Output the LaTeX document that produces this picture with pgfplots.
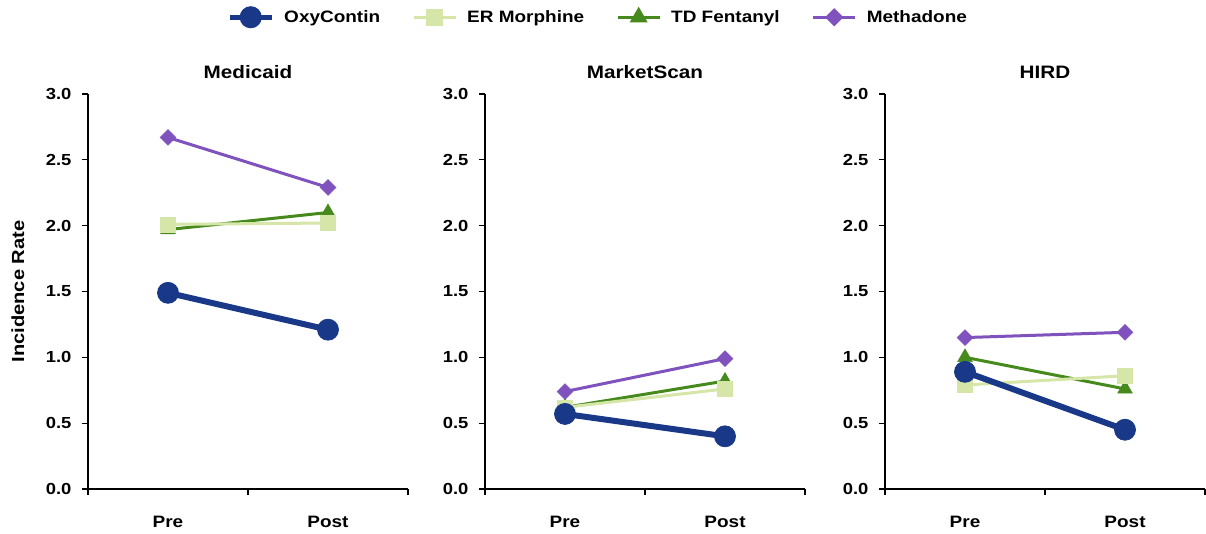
\documentclass[border=0pt]{standalone}
\usepackage{fontspec}
\setmainfont{Liberation Sans}[FakeStretch=1.15]
\usepackage{pgfplots}
\pgfplotsset{compat=1.18}
\usepackage{pgfplotstable}

\definecolor{oxy}{RGB}{25,57,136}
\definecolor{er}{RGB}{214,229,168}
\definecolor{td}{RGB}{70,138,30}
\definecolor{meth}{RGB}{127,82,190}

\pgfplotstableread{
x oxy er td meth
0.5 1.49 2.01 1.97 2.67
1.5 1.21 2.02 2.10 2.29
}\medicaid
\pgfplotstableread{
x oxy er td meth
0.5 0.57 0.62 0.62 0.74
1.5 0.40 0.76 0.82 0.99
}\marketscan
\pgfplotstableread{
x oxy er td meth
0.5 0.89 0.79 1.00 1.15
1.5 0.45 0.86 0.76 1.19
}\hird

\pgfplotsset{
  panel/.style={
    scale only axis, width=320pt, height=395pt,
    anchor=south west, clip=false,
    xmin=0, xmax=2, ymin=0, ymax=3,
    axis x line*=bottom, axis y line*=left,
    axis line style={line width=1.3pt, black},
    xtick={0.5,1.5}, xticklabels={Pre,Post},
    minor xtick={0,1,2},
    major x tick style={draw=none},
    ytick={0,0.5,1,1.5,2,2.5,3},
    tick align=outside, major tick length=6pt, minor tick length=6pt,
    tick style={line width=1.3pt, black},
    ticklabel style={font=\fontsize{16}{18}\selectfont\bfseries},
    xticklabel style={yshift=-18pt, font=\fontsize{16.5}{19}\selectfont\bfseries},
    yticklabel style={xshift=-7pt, /pgf/number format/.cd, fixed, fixed zerofill, precision=1, assume math mode=true},
    title style={font=\fontsize{18}{21}\selectfont\bfseries, at={(0.5,1)}, anchor=center, yshift=16pt},
  },
  oxys/.style={color=oxy, line width=6pt, mark=*, mark size=10.5pt, mark options={solid, line width=0.8pt, fill=oxy}},
  ers/.style={color=er, line width=3pt, mark=square*, mark size=7.5pt, mark options={solid, line width=0.5pt, fill=er}},
  tds/.style={color=td, line width=3pt, mark=triangle*, mark size=8.5pt, mark options={solid, line width=0.5pt, fill=td}},
  meths/.style={color=meth, line width=3pt, mark=square*, mark size=5.6pt, mark options={solid, rotate=45, line width=0.5pt, fill=meth}},
}

\begin{document}
\begin{tikzpicture}
\path[use as bounding box] (0,0) rectangle (1206pt,534pt);

\begin{axis}[panel, at={(88pt,45pt)}, title={Medicaid},
  ylabel={Incidence Rate},
  ylabel style={font=\fontsize{17.5}{20}\selectfont\bfseries, at={(axis description cs:-0.219,0.5)}, anchor=center},
  legend columns=4,
  legend style={at={(axis description cs:1.594,1.222)}, anchor=north, draw=none, fill=none,
    font=\fontsize{16.5}{19}\selectfont\bfseries,
    /tikz/every odd column/.append style={column sep=8pt},
    /tikz/every even column/.append style={column sep=30pt}},
  legend image code/.code={\draw[mark repeat=2,mark phase=2,#1] plot coordinates {(0pt,0pt) (21pt,0pt) (42pt,0pt)};},
]
\addlegendimage{color=oxy, line width=5pt, mark=*, mark size=8.5pt, mark options={solid, fill=oxy}}
\addlegendentry{OxyContin}
\addlegendimage{color=er, line width=3pt, mark=square*, mark size=7pt, mark options={solid, fill=er}}
\addlegendentry{ER Morphine}
\addlegendimage{color=td, line width=3pt, mark=triangle*, mark size=7.5pt, mark options={solid, fill=td}}
\addlegendentry{TD Fentanyl}
\addlegendimage{color=meth, line width=3pt, mark=square*, mark size=5pt, mark options={solid, rotate=45, fill=meth}}
\addlegendentry{Methadone}
\addplot[meths, forget plot] table[x=x, y=meth] {\medicaid};
\addplot[tds, forget plot] table[x=x, y=td] {\medicaid};
\addplot[ers, forget plot] table[x=x, y=er] {\medicaid};
\addplot[oxys, forget plot] table[x=x, y=oxy] {\medicaid};
\end{axis}

\begin{axis}[panel, at={(485pt,45pt)}, title={MarketScan}]
\addplot[meths] table[x=x, y=meth] {\marketscan};
\addplot[tds] table[x=x, y=td] {\marketscan};
\addplot[ers] table[x=x, y=er] {\marketscan};
\addplot[oxys] table[x=x, y=oxy] {\marketscan};
\end{axis}

\begin{axis}[panel, at={(885pt,45pt)}, title={HIRD}]
\addplot[meths] table[x=x, y=meth] {\hird};
\addplot[tds] table[x=x, y=td] {\hird};
\addplot[ers] table[x=x, y=er] {\hird};
\addplot[oxys] table[x=x, y=oxy] {\hird};
\end{axis}
\end{tikzpicture}
\end{document}
